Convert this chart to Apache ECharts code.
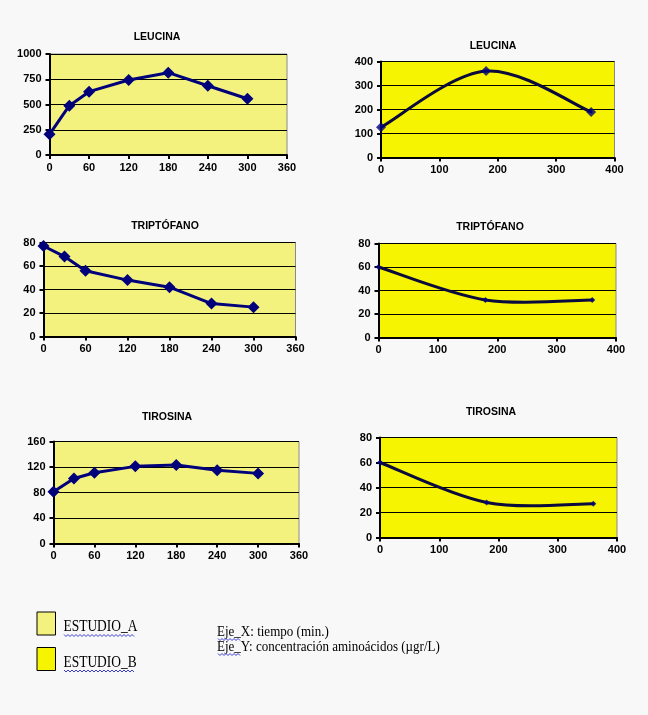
<!DOCTYPE html>
<html>
<head>
<meta charset="utf-8">
<script src="https://cdn.jsdelivr.net/npm/echarts@6/dist/echarts.min.js"></script>
<style>
html,body{margin:0;padding:0;background:#f8f8f8;}
#chart{width:648px;height:715px;}
</style>
</head>
<body>
<div id="chart"></div>
<script>
// ---- data ----
const chartTitles = ['LEUCINA', 'TRIPTÓFANO', 'TIROSINA'];
const timeA = [0, 30, 60, 120, 180, 240, 300];
const leucinaA = [205, 488, 627, 743, 815, 686, 557];
const triptofanoA = [77, 68, 56, 48, 42, 28, 25];
const tirosinaA = [81, 102, 111, 121, 123, 115, 110];
const timeB = [0, 180, 360];
const leucinaB = [126, 360, 190];
const triptofanoB = [60, 32, 32];
const tirosinaB = [60, 28, 27];
const legendLabels = ['ESTUDIO_A', 'ESTUDIO_B'];
const axisNotes = ['Eje_X: tiempo (min.)', 'Eje_Y: concentración aminoácidos (µgr/L)'];
// axis ranges [min, max, interval]
const xRangeA = [0, 360, 60];
const xRangeB = [0, 400, 100];
const yRanges = [[0, 1000, 250], [0, 400, 100], [0, 80, 20], [0, 80, 20], [0, 160, 40], [0, 80, 20]];

// ---- layout / style ----
const paleYellow = '#f4f27f';
const brightYellow = '#f6f400';
const grids = [
  {left: 49.5, top: 54, width: 237.5, height: 101},
  {left: 381, top: 61.5, width: 233.5, height: 96},
  {left: 43.5, top: 242.5, width: 252, height: 94},
  {left: 378.5, top: 243.5, width: 237.5, height: 94},
  {left: 53.5, top: 441.5, width: 245.5, height: 102},
  {left: 380, top: 437.5, width: 237, height: 100}
];
const titlePos = [[157, 37], [493, 46], [165, 226], [490, 227], [167, 417], [491, 412]];
const seriesData = [
  [timeA, leucinaA], [timeB, leucinaB],
  [timeA, triptofanoA], [timeB, triptofanoB],
  [timeA, tirosinaA], [timeB, tirosinaB]
];
const labelFont = {color: '#000', fontWeight: 'bold', fontSize: 11, fontFamily: 'Liberation Sans, Arial, sans-serif', formatter: v => String(v)};

// Excel-like smoothed segment drawn through the axis scales
function smoothRenderer(xs, ys, color) {
  return function (params, api) {
    const i = params.dataIndex;
    const n = xs.length;
    if (i >= n - 1) return null;
    const P = k => api.coord([xs[Math.max(0, Math.min(n - 1, k))], ys[Math.max(0, Math.min(n - 1, k))]]);
    const p0 = P(i - 1), p1 = P(i), p2 = P(i + 1), p3 = P(i + 2);
    return {
      type: 'bezierCurve',
      shape: {
        x1: p1[0], y1: p1[1], x2: p2[0], y2: p2[1],
        cpx1: p1[0] + (p2[0] - p0[0]) / 6, cpy1: p1[1] + (p2[1] - p0[1]) / 6,
        cpx2: p2[0] - (p3[0] - p1[0]) / 6, cpy2: p2[1] - (p3[1] - p1[1]) / 6
      },
      style: {stroke: color, lineWidth: 3, fill: null, lineCap: 'round'}
    };
  };
}

const series = [];
seriesData.forEach((d, i) => {
  const isA = i % 2 === 0;
  const pts = d[0].map((t, k) => [t, d[1][k]]);
  if (isA) {
    series.push({
      type: 'line', xAxisIndex: i, yAxisIndex: i, data: pts,
      symbol: 'diamond', symbolSize: 12,
      itemStyle: {color: '#00007a'},
      lineStyle: {color: '#00007a', width: 3}, z: 3
    });
  } else {
    series.push({
      type: 'custom', xAxisIndex: i, yAxisIndex: i, data: pts,
      encode: {x: 0, y: 1},
      renderItem: smoothRenderer(d[0], d[1], '#0a0a3c'), z: 3
    });
    series.push({
      type: 'scatter', xAxisIndex: i, yAxisIndex: i, data: pts,
      symbol: 'diamond', symbolSize: i === 1 ? 10 : 6,
      itemStyle: {color: '#00007a'}, z: 4
    });
  }
});

const option = {
  backgroundColor: '#f8f8f8',
  animation: false,
  grid: grids.map((g, i) => Object.assign({
    show: true,
    backgroundColor: i % 2 === 0 ? paleYellow : brightYellow,
    borderColor: '#8a8a8a',
    borderWidth: 1,
    containLabel: false
  }, g)),
  xAxis: grids.map((g, i) => {
    const r = i % 2 === 0 ? xRangeA : xRangeB;
    return {
      type: 'value', gridIndex: i, min: r[0], max: r[1], interval: r[2],
      axisLine: {show: true, lineStyle: {color: '#000', width: 2}},
      axisTick: {show: true, inside: false, length: 4, lineStyle: {color: '#000', width: 2}},
      axisLabel: Object.assign({margin: 7}, labelFont),
      splitLine: {show: false}
    };
  }),
  yAxis: grids.map((g, i) => {
    const r = yRanges[i];
    return {
      type: 'value', gridIndex: i, min: r[0], max: r[1], interval: r[2],
      axisLine: {show: true, lineStyle: {color: '#000', width: 2}},
      axisTick: {show: true, inside: false, length: 4, lineStyle: {color: '#000', width: 2}},
      axisLabel: Object.assign({margin: 8}, labelFont),
      splitLine: {show: true, lineStyle: {color: '#000', width: 1}}
    };
  }),
  series: series,
  graphic: []
};

// titles
chartTitles.forEach((t, r) => {
  [0, 1].forEach(c => {
    const p = titlePos[r * 2 + c];
    option.graphic.push({
      type: 'text', x: p[0], y: p[1],
      style: {text: t, fill: '#000', font: 'bold 10.5px "Liberation Sans", Arial, sans-serif', align: 'center', verticalAlign: 'middle'}
    });
  });
});

// wavy underline helper (decoration only)
function wavy(x0, x1, y) {
  const pts = [];
  let up = true;
  for (let x = x0; x <= x1; x += 2) { pts.push([x, y + (up ? -1 : 1)]); up = !up; }
  return {type: 'polyline', shape: {points: pts}, style: {stroke: '#3b3bd6', lineWidth: 1, fill: null}};
}

// legend boxes
[[paleYellow, 612], [brightYellow, 647.5]].forEach((b, i) => {
  option.graphic.push({
    type: 'rect', shape: {x: 37, y: b[1], width: 18.5, height: 23},
    style: {fill: b[0], stroke: '#000', lineWidth: 1}
  });
  option.graphic.push({
    type: 'text', x: 63.5, y: b[1] + 15, scaleX: 0.84,
    style: {text: legendLabels[i], fill: '#000', font: '16px "Liberation Serif", "Times New Roman", serif', align: 'left', verticalAlign: 'middle'}
  });
  option.graphic.push(wavy(64, 135, b[1] + 23.5));
});

// axis notes
axisNotes.forEach((t, i) => {
  const y = 632 + i * 15;
  option.graphic.push({
    type: 'text', x: 217, y: y, scaleX: 0.84,
    style: {text: t, fill: '#000', font: '15.5px "Liberation Serif", "Times New Roman", serif', align: 'left', verticalAlign: 'middle'}
  });
  option.graphic.push(wavy(218, 240, y + 7.5));
});

const chart = echarts.init(document.getElementById('chart'), null, {renderer: 'canvas'});
chart.setOption(option);
</script>
</body>
</html>
